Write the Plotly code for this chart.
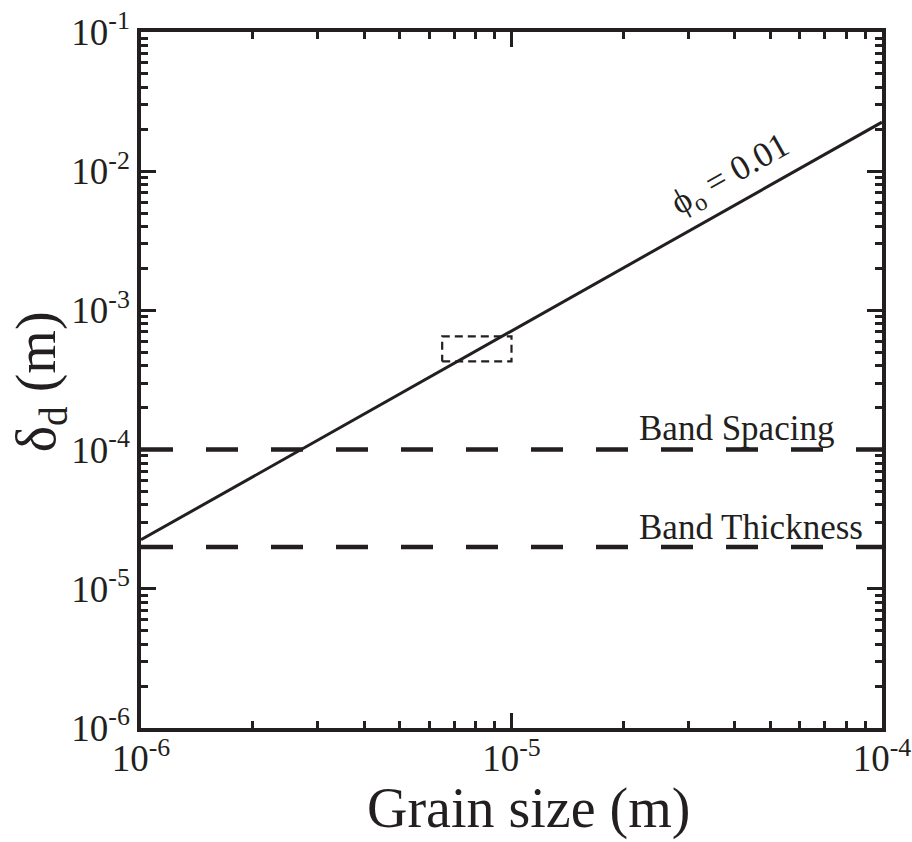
import plotly.graph_objects as go

# data
grain_size = [1e-6, 1e-4]
delta_d = [2.25e-5, 2.25e-2]
band_spacing = 1e-4
band_thickness = 2e-5
box_x = [6.5e-6, 1.0e-5]
box_y = [4.3e-4, 6.5e-4]
x_range = [1e-6, 1e-4]
x_major = [1e-6, 1e-5, 1e-4]
x_major_text = ["10<sup>-6</sup>", "10<sup>-5</sup>", "10<sup>-4</sup>"]
y_major = [1e-6, 1e-5, 1e-4, 1e-3, 1e-2, 1e-1]
y_major_text = ["10<sup>-6</sup>", "10<sup>-5</sup>", "10<sup>-4</sup>",
                "10<sup>-3</sup>", "10<sup>-2</sup>", "10<sup>-1</sup>"]

INK = "#231f20"
FONT = "'Liberation Serif', 'Times New Roman', serif"


def minor_vals(majors):
    out = []
    for m in majors[:-1]:
        for k in range(2, 10):
            out.append(m * k)
    return out


fig = go.Figure()

fig.add_trace(go.Scatter(x=grain_size, y=delta_d, mode="lines",
                         line=dict(color=INK, width=3), showlegend=False,
                         hoverinfo="skip"))
fig.add_trace(go.Scatter(x=x_range, y=[band_spacing, band_spacing], mode="lines",
                         line=dict(color=INK, width=4.5, dash="32px,33px"),
                         showlegend=False, hoverinfo="skip"))
fig.add_trace(go.Scatter(x=x_range, y=[band_thickness, band_thickness], mode="lines",
                         line=dict(color=INK, width=4.5, dash="32px,33px"),
                         showlegend=False, hoverinfo="skip"))
fig.add_trace(go.Scatter(
    x=[box_x[0], box_x[1], box_x[1], box_x[0], box_x[0]],
    y=[box_y[0], box_y[0], box_y[1], box_y[1], box_y[0]],
    mode="lines", line=dict(color=INK, width=2.2, dash="8px,5px"),
    showlegend=False, hoverinfo="skip"))

axis_common = dict(
    type="log", showgrid=False, zeroline=False, automargin=False,
    showline=True, linecolor=INK, linewidth=3.5, mirror="ticks",
    ticks="inside", ticklen=15, tickwidth=3, tickcolor=INK,
    tickmode="array",
    tickfont=dict(family=FONT, size=37, color=INK),
)

fig.update_xaxes(**axis_common, range=[-6, -4], tickvals=x_major, ticktext=x_major_text,
                 ticklabelstandoff=-5,
                 minor=dict(tickmode="array", tickvals=minor_vals(x_major), ticks="inside",
                            ticklen=7, tickwidth=3, tickcolor=INK, showgrid=False))
fig.update_yaxes(**axis_common, range=[-6, -1], tickvals=y_major, ticktext=y_major_text,
                 minor=dict(tickmode="array", tickvals=minor_vals(y_major), ticks="inside",
                            ticklen=7, tickwidth=3, tickcolor=INK, showgrid=False))

annotations = [
    dict(text="ϕ<sub>o</sub> = 0.01", x=-4.41, y=-2.03, xref="x", yref="y",
         textangle=-29.4, showarrow=False, font=dict(family=FONT, size=35, color=INK)),
    dict(text="Band Spacing", x=-4.662, y=-3.845, xref="x", yref="y",
         xanchor="left", yanchor="middle", showarrow=False,
         font=dict(family=FONT, size=35, color=INK)),
    dict(text="Band Thickness", x=-4.662, y=-4.563, xref="x", yref="y",
         xanchor="left", yanchor="middle", showarrow=False,
         font=dict(family=FONT, size=35, color=INK)),
    dict(text="Grain size (m)", x=0.5236, y=-0.1625, xref="paper", yref="paper",
         xanchor="center", yanchor="bottom", showarrow=False, borderpad=0,
         font=dict(family=FONT, size=56, color=INK)),
    dict(text="δ<sub>d</sub> (m)", x=-0.136, y=0.497, xref="paper", yref="paper",
         xanchor="center", yanchor="middle", textangle=-90, showarrow=False,
         font=dict(family=FONT, size=56, color=INK)),
]

fig.update_layout(
    width=912, height=842,
    margin=dict(l=141, r=30, t=32, b=114),
    paper_bgcolor="white", plot_bgcolor="white",
    annotations=annotations,
    showlegend=False,
)

fig.write_html("out.html")
